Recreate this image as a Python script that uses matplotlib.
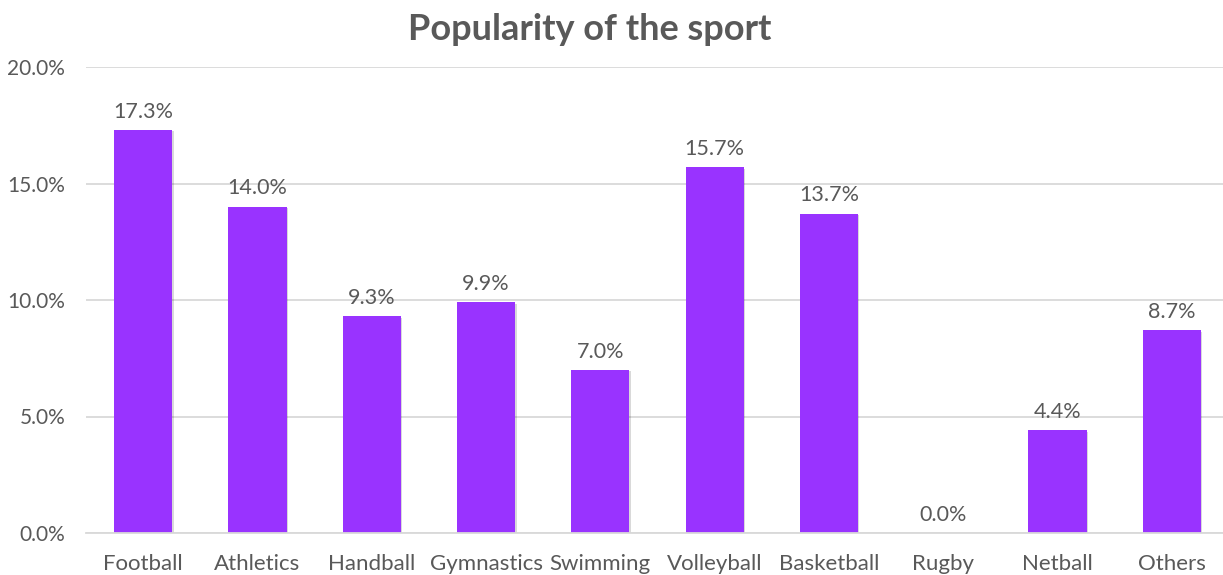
import matplotlib
matplotlib.use("Agg")
import matplotlib.pyplot as plt
import matplotlib.patheffects as pe
from matplotlib.ticker import FuncFormatter, MultipleLocator

sports = ["Football", "Athletics", "Handball", "Gymnastics", "Swimming",
          "Volleyball", "Basketball", "Rugby", "Netball", "Others"]
popularity = [17.3, 14.0, 9.3, 9.9, 7.0, 15.7, 13.7, 0.0, 4.4, 8.7]

text_color = "#595959"
bar_color = "#9933FF"
plt.rcParams["font.family"] = ["Lato", "DejaVu Sans"]

fig = plt.figure(figsize=(12.23, 5.75), dpi=100)
ax = fig.add_axes([86 / 1223, 42 / 575, 1143 / 1223, 466 / 575])

x = range(len(sports))
bars = ax.bar(x, popularity, width=0.51, color=bar_color, zorder=3)
for b in bars:
    b.set_path_effects([pe.SimplePatchShadow(offset=(1, -1), shadow_rgbFace="#000000", alpha=0.15),
                        pe.Normal()])

for xi, v in zip(x, popularity):
    ax.annotate(f"{v:.1f}%", (xi, v), xytext=(0, 6), textcoords="offset points",
                ha="center", va="bottom", fontsize=15.5, color=text_color)

ax.set_xlim(-0.5, len(sports) - 0.5)
ax.set_ylim(0, 20)
ax.yaxis.set_major_locator(MultipleLocator(5))
ax.yaxis.set_major_formatter(FuncFormatter(lambda v, _: f"{v:.1f}%"))
ax.set_xticks(list(x))
ax.set_xticklabels(sports)

ax.grid(axis="y", color="#D9D9D9", linewidth=1.3, zorder=0)
for side in ["top", "right", "left"]:
    ax.spines[side].set_visible(False)
ax.spines["bottom"].set_color("#D9D9D9")
ax.spines["bottom"].set_linewidth(1.3)
ax.spines["bottom"].set_zorder(4)

ax.tick_params(axis="x", length=0, pad=15, labelsize=16, labelcolor=text_color)
ax.tick_params(axis="y", length=0, pad=15, labelsize=15, labelcolor=text_color)

fig.text(590 / 1223, 1 - 29 / 575, "Popularity of the sport", ha="center", va="center",
         fontsize=26, fontweight="bold", color=text_color)

fig.savefig("out.png", dpi=100)
